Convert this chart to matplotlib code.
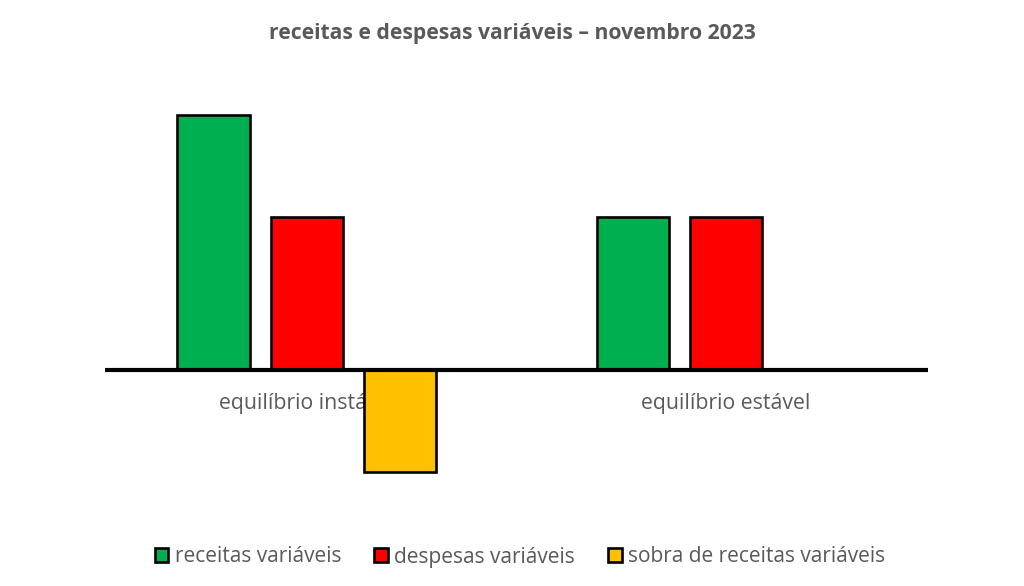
import numpy as np
import matplotlib.pyplot as plt
from matplotlib.patches import Patch

#-----------------Data-------------

categories = ['equilíbrio instável', 'equilíbrio estável']
series_names = ['receitas variáveis', 'despesas variáveis', 'sobra de receitas variáveis']
receitas = [5, 3]
despesas = [3, 3]
sobra = [-2, 0]

colors = ['#00B050', '#FF0000', '#FFC000']
text_gray = '#595959'

plt.rcParams['font.family'] = ['Open Sans', 'DejaVu Sans']

#-----------------Plot-------------

fig = plt.figure(figsize=(10.24, 5.86), dpi=100)
ax = fig.add_axes([105 / 1024, 1 - 523 / 586, 823 / 1024, 459 / 586])

x = np.arange(len(categories))
step = 0.222
width = 0.174

for i, (vals, name) in enumerate(zip([receitas, despesas, sobra], series_names)):
    ax.bar(x + (i - 1) * step, vals, width, color=colors[i], edgecolor='black',
           linewidth=1.9, zorder=3, label=name)

ax.axhline(0, color='black', linewidth=3, zorder=4)

# category labels sit just under the zero line, behind the bars
for xi, cat in zip(x, categories):
    ax.text(xi, -0.65, cat, ha='center', va='center', fontsize=15.3,
            color=text_gray, zorder=1)

ax.set_xlim(-0.482, 1.482)
ax.set_ylim(-3, 6)
ax.axis('off')

fig.suptitle('receitas e despesas variáveis – novembro 2023', y=1 - 33 / 586,
             va='center', fontsize=15.2, fontweight='bold', color=text_gray)

handles = [Patch(facecolor=c, edgecolor='black', linewidth=1.9) for c in colors]
fig.legend(handles, series_names, loc='center', bbox_to_anchor=(520 / 1024, 1 - 557 / 586),
           ncol=3, frameon=False, fontsize=15, handlelength=0.65, handleheight=0.65,
           handletextpad=0.3, columnspacing=1.6, labelcolor=text_gray)

fig.savefig('out.png', dpi=100)
